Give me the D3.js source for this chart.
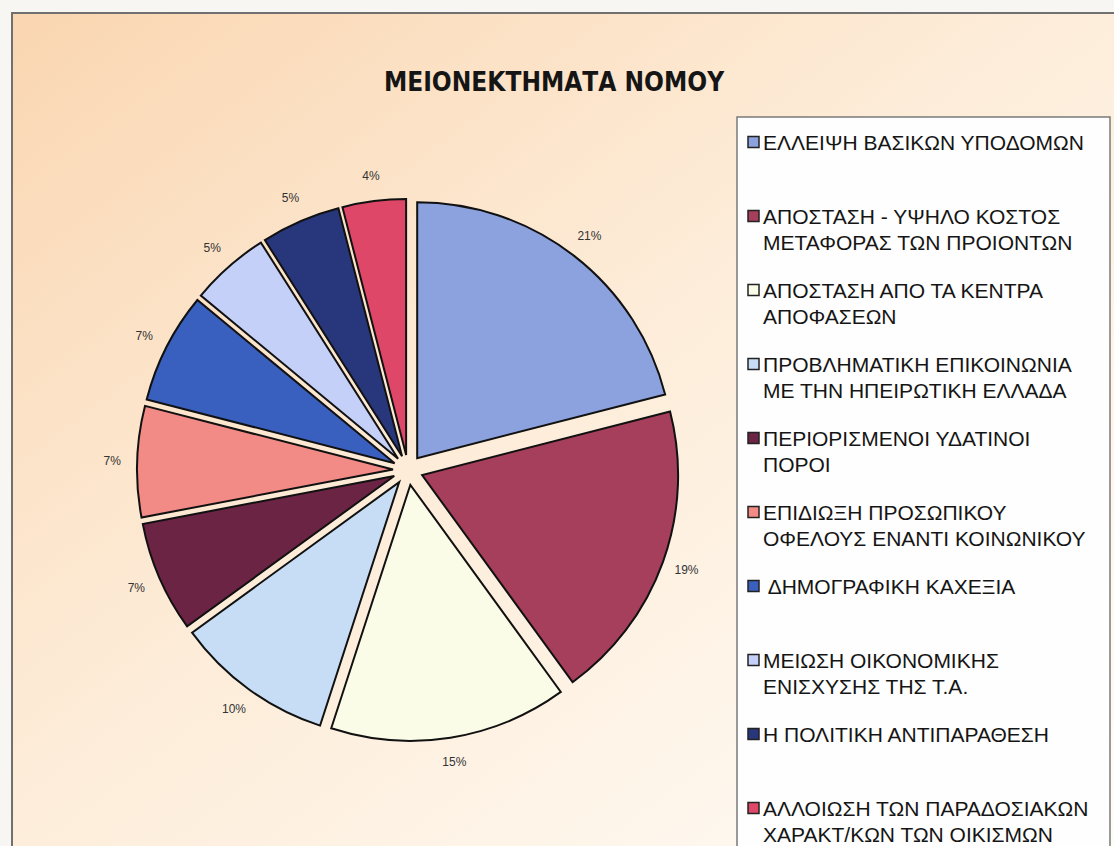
<!DOCTYPE html>
<html>
<head>
<meta charset="utf-8">
<script src="https://cdn.jsdelivr.net/npm/d3@7"></script>
<style>
  body { margin: 0; background: #f7f5f1; }
  svg { display: block; }
</style>
</head>
<body>
<svg id="chart"></svg>
<script>
// Pie slices, clockwise from 12 o'clock (same order as the legend)
const categories = [
    "ΕΛΛΕΙΨΗ ΒΑΣΙΚΩΝ ΥΠΟΔΟΜΩΝ",
    "ΑΠΟΣΤΑΣΗ - ΥΨΗΛΟ ΚΟΣΤΟΣ|ΜΕΤΑΦΟΡΑΣ ΤΩΝ ΠΡΟΙΟΝΤΩΝ",
    "ΑΠΟΣΤΑΣΗ ΑΠΟ ΤΑ ΚΕΝΤΡΑ|ΑΠΟΦΑΣΕΩΝ",
    "ΠΡΟΒΛΗΜΑΤΙΚΗ ΕΠΙΚΟΙΝΩΝΙΑ|ΜΕ ΤΗΝ ΗΠΕΙΡΩΤΙΚΗ ΕΛΛΑΔΑ",
    "ΠΕΡΙΟΡΙΣΜΕΝΟΙ ΥΔΑΤΙΝΟΙ|ΠΟΡΟΙ",
    "ΕΠΙΔΙΩΞΗ ΠΡΟΣΩΠΙΚΟΥ|ΟΦΕΛΟΥΣ ΕΝΑΝΤΙ ΚΟΙΝΩΝΙΚΟΥ",
    " ΔΗΜΟΓΡΑΦΙΚΗ ΚΑΧΕΞΙΑ",
    "ΜΕΙΩΣΗ ΟΙΚΟΝΟΜΙΚΗΣ|ΕΝΙΣΧΥΣΗΣ ΤΗΣ Τ.Α.",
    "Η ΠΟΛΙΤΙΚΗ ΑΝΤΙΠΑΡΑΘΕΣΗ",
    "ΑΛΛΟΙΩΣΗ ΤΩΝ ΠΑΡΑΔΟΣΙΑΚΩΝ|ΧΑΡΑΚΤ/ΚΩΝ ΤΩΝ ΟΙΚΙΣΜΩΝ"
];
const shares = [21, 19, 15, 10, 7, 7, 7, 5, 5, 4];
const sliceColors = ["#8ca2de", "#a63f5c", "#fbfce8", "#c7ddf6", "#6c2445",
                     "#f28a86", "#3a60bf", "#c4d0f7", "#28377b", "#df4769"];
const chartTitle = "ΜΕΙΟΝΕΚΤΗΜΑΤΑ ΝΟΜΟΥ";

const W = 1114, H = 846;
const cx = 408, cy = 470, R = 256, explode = 15, labelR = 296;

const svg = d3.select("#chart").attr("width", W).attr("height", H);

// scanned-page background: peach fading to white
const defs = svg.append("defs");
const grad = defs.append("linearGradient").attr("id", "bg")
    .attr("x1", 0).attr("y1", 0).attr("x2", 1).attr("y2", 1);
grad.append("stop").attr("offset", 0).attr("stop-color", "#fad6b1");
grad.append("stop").attr("offset", 0.45).attr("stop-color", "#fdecd8");
grad.append("stop").attr("offset", 1).attr("stop-color", "#fffdf9");

svg.append("rect").attr("width", W).attr("height", H).attr("fill", "#f8f6f2");
svg.append("rect").attr("x", 12).attr("y", 13).attr("width", W).attr("height", H)
    .attr("fill", "url(#bg)");
svg.append("path").attr("d", `M12,${H} V13 H${W}`)
    .attr("fill", "none").attr("stroke", "#707070").attr("stroke-width", 2);

// title
svg.append("text")
    .attr("x", 554).attr("y", 91)
    .attr("text-anchor", "middle")
    .style("font-family", "'DejaVu Sans Condensed', 'DejaVu Sans', sans-serif")
    .style("font-size", "26px").style("font-weight", "bold").style("fill", "#151515")
    .text(chartTitle);

// pie
const pie = d3.pie().sort(null).value(d => d);
const arcs = pie(shares);
const arc = d3.arc().innerRadius(0).outerRadius(R);
const mid = d => (d.startAngle + d.endAngle) / 2;

const g = svg.append("g").attr("transform", `translate(${cx},${cy})`);

g.selectAll("path.slice").data(arcs).enter().append("path")
    .attr("class", "slice")
    .attr("transform", d => `translate(${explode * Math.sin(mid(d))},${-explode * Math.cos(mid(d))})`)
    .attr("d", arc)
    .attr("fill", (d, i) => sliceColors[i])
    .attr("stroke", "#111").attr("stroke-width", 2).attr("stroke-linejoin", "miter");

g.selectAll("text.pct").data(arcs).enter().append("text")
    .attr("class", "pct")
    .attr("x", d => labelR * Math.sin(mid(d)))
    .attr("y", d => -labelR * Math.cos(mid(d)) + 4)
    .attr("text-anchor", "middle")
    .style("font-family", "'Liberation Sans', Arial, sans-serif")
    .style("font-size", "12px").style("fill", "#333")
    .text(d => d.value + "%");

// legend
const lx = 737, ly = 117;
svg.append("rect").attr("x", lx).attr("y", ly).attr("width", 373).attr("height", H)
    .attr("fill", "#fefefe").attr("stroke", "#7a7a7a").attr("stroke-width", 1.5);

const ly0 = d3.scalePoint().domain(categories).range([142, 808]);

const item = svg.selectAll("g.leg").data(categories).enter().append("g")
    .attr("class", "leg")
    .attr("transform", d => `translate(${lx + 11},${ly0(d)})`);

item.append("rect")
    .attr("x", 0).attr("y", -5.5).attr("width", 11).attr("height", 11)
    .attr("fill", (d, i) => sliceColors[i])
    .attr("stroke", "#222").attr("stroke-width", 1.5);

item.append("text")
    .attr("x", 15).attr("y", 7.5)
    .style("font-family", "'Liberation Sans', Arial, sans-serif")
    .style("font-size", "21px").style("fill", "#151515")
    .style("white-space", "pre")
    .selectAll("tspan").data(d => d.split("|")).enter().append("tspan")
    .attr("x", 15).attr("dy", (d, i) => i ? 26 : 0)
    .text(d => d);
</script>
</body>
</html>
